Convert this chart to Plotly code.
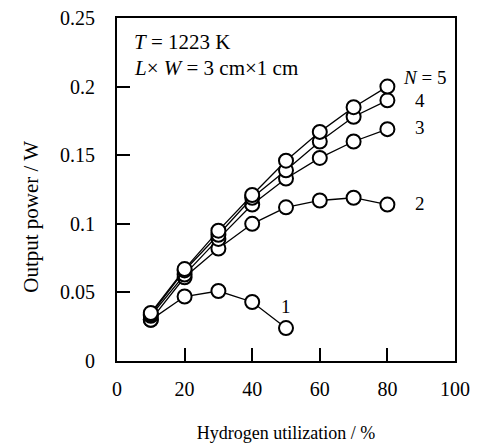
import plotly.graph_objects as go

utilization = [10, 20, 30, 40, 50, 60, 70, 80]
power_n5 = [0.035, 0.067, 0.095, 0.121, 0.146, 0.167, 0.185, 0.200]
power_n4 = [0.034, 0.066, 0.092, 0.119, 0.139, 0.160, 0.178, 0.190]
power_n3 = [0.033, 0.063, 0.089, 0.114, 0.133, 0.148, 0.160, 0.169]
power_n2 = [0.030, 0.061, 0.082, 0.100, 0.112, 0.117, 0.119, 0.114]
utilization_n1 = [10, 20, 30, 40, 50]
power_n1 = [0.030, 0.047, 0.051, 0.043, 0.024]

x_ticks = [0, 20, 40, 60, 80, 100]
y_ticks = [0, 0.05, 0.1, 0.15, 0.2, 0.25]
y_tick_text = ["0", "0.05", "0.1", "0.15", "0.2", "0.25"]

FONT = "Liberation Serif"

fig = go.Figure()
series = [
    (utilization_n1, power_n1),
    (utilization, power_n2),
    (utilization, power_n3),
    (utilization, power_n4),
    (utilization, power_n5),
]
for xs, ys in series:
    fig.add_trace(go.Scatter(
        x=xs, y=ys, mode="lines+markers",
        line=dict(color="black", width=1.3),
        marker=dict(symbol="circle", size=14, color="white",
                    line=dict(color="black", width=2)),
        showlegend=False, cliponaxis=False,
    ))

labels = [
    ("<i>N</i> = 5", 84.0, 0.207, "left"),
    ("4", 87.5, 0.190, "left"),
    ("3", 87.5, 0.170, "left"),
    ("2", 87.5, 0.115, "left"),
    ("1", 50, 0.040, "center"),
]
for txt, lx, ly, anc in labels:
    fig.add_annotation(x=lx, y=ly, text=txt, showarrow=False, xanchor=anc,
                       yanchor="middle", font=dict(family=FONT, size=19, color="black"))

fig.add_annotation(x=0.045, y=0.93, xref="paper", yref="paper", text="<i>T</i> = 1223 K",
                   showarrow=False, xanchor="left", yanchor="middle",
                   font=dict(family=FONT, size=21, color="black"))
fig.add_annotation(x=0.045, y=0.855, xref="paper", yref="paper",
                   text="<i>L</i>\u00d7 <i>W</i> = 3 cm\u00d71 cm",
                   showarrow=False, xanchor="left", yanchor="middle",
                   font=dict(family=FONT, size=21, color="black"))

# y-axis title placed as rotated text
fig.add_annotation(x=-0.255, y=0.42, xref="paper", yref="paper",
                   text="Output power / W", textangle=-90, showarrow=False,
                   xanchor="center", yanchor="middle",
                   font=dict(family=FONT, size=21, color="black"))

fig.update_xaxes(
    range=[0, 100], tickvals=x_ticks, ticktext=[str(v) for v in x_ticks],
    ticks="inside", ticklen=13, tickwidth=2, tickcolor="black",
    showline=True, linewidth=2, linecolor="black", mirror=True,
    showgrid=False, zeroline=False, ticklabelstandoff=9,
    tickfont=dict(family=FONT, size=20, color="black"),
    title=dict(text="Hydrogen utilization / %", standoff=29,
               font=dict(family=FONT, size=18, color="black")),
)
fig.update_yaxes(
    range=[0, 0.25], tickvals=y_ticks, ticktext=y_tick_text,
    ticks="inside", ticklen=13, tickwidth=2, tickcolor="black",
    showline=True, linewidth=2, linecolor="black", mirror=True,
    showgrid=False, zeroline=False, ticklabelstandoff=16,
    tickfont=dict(family=FONT, size=20, color="black"),
)
fig.update_layout(
    width=480, height=443,
    margin=dict(l=117, r=25, t=18, b=82, autoexpand=False),
    paper_bgcolor="white", plot_bgcolor="white",
    font=dict(family=FONT, color="black"),
)
fig.write_html("out.html", config={"displayModeBar": False},
               post_script="document.body.style.margin='0';")
